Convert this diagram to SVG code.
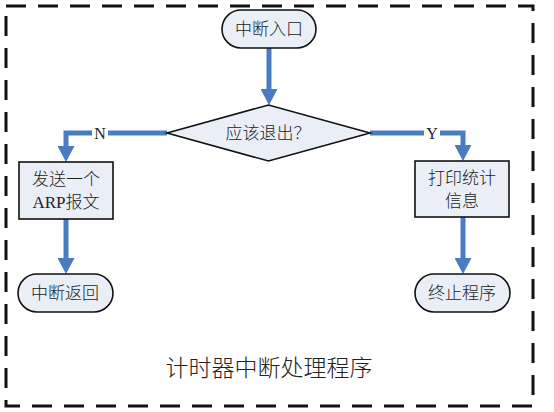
<svg xmlns="http://www.w3.org/2000/svg" width="554" height="412" viewBox="0 0 554 412">
<style>
.node{fill:#e9eef7;stroke:#111;stroke-width:1.6}
.t{font-family:"Liberation Serif","Noto Sans CJK SC",serif;font-size:17px;font-weight:300;fill:#222;text-anchor:middle}
.lbl{font-family:"Liberation Serif","Noto Sans CJK SC",serif;font-size:16px;fill:#222;text-anchor:middle}
.c{fill:none;stroke:#4a7cc4;stroke-width:5;marker-end:url(#ah)}
</style>
<defs>
<marker id="ah" markerUnits="userSpaceOnUse" viewBox="0 0 16 17" markerWidth="16" markerHeight="17" refX="1" refY="8.5" orient="auto">
<path d="M0,0 L16,8.5 L0,17 z" fill="#4a7cc4"/>
</marker>
</defs>
<rect x="6" y="6" width="527" height="400" fill="none" stroke="#111" stroke-width="3" stroke-dasharray="20 12"/>
<g id="connectors">
<path class="c" d="M269,48 V90"/>
<path class="c" d="M167,133 H66 V147"/>
<path class="c" d="M370,133 H463 V146"/>
<path class="c" d="M66,219 V259"/>
<path class="c" d="M463,217 V259"/>
<rect x="92" y="124" width="16" height="18" fill="#fff"/>
<text class="lbl" x="100" y="139">N</text>
<rect x="424" y="124" width="16" height="18" fill="#fff"/>
<text class="lbl" x="432" y="139">Y</text>
</g>
<g id="start">
<rect class="node" x="222" y="10" width="94" height="38" rx="19"/>
<text class="t" x="269" y="35">中断入口</text>
</g>
<g id="decision">
<polygon class="node" points="167,133 268.5,105 370,133 268.5,161"/>
<text class="t" x="268" y="139">应该退出？</text>
</g>
<g id="send">
<rect class="node" x="19" y="162" width="94" height="57"/>
<text class="t" x="66" y="185">发送一个</text>
<text class="t" x="66" y="208">ARP报文</text>
</g>
<g id="print">
<rect class="node" x="415" y="161" width="94" height="56"/>
<text class="t" x="462" y="184">打印统计</text>
<text class="t" x="462" y="207">信息</text>
</g>
<g id="return">
<rect class="node" x="18" y="274" width="95" height="38" rx="19"/>
<text class="t" x="65" y="299">中断返回</text>
</g>
<g id="end">
<rect class="node" x="415" y="274" width="95" height="38" rx="19"/>
<text class="t" x="462" y="299">终止程序</text>
</g>
<text x="269" y="376" font-family="'Liberation Serif','Noto Sans CJK SC',serif" font-size="23" font-weight="300" fill="#222" text-anchor="middle">计时器中断处理程序</text>
</svg>
